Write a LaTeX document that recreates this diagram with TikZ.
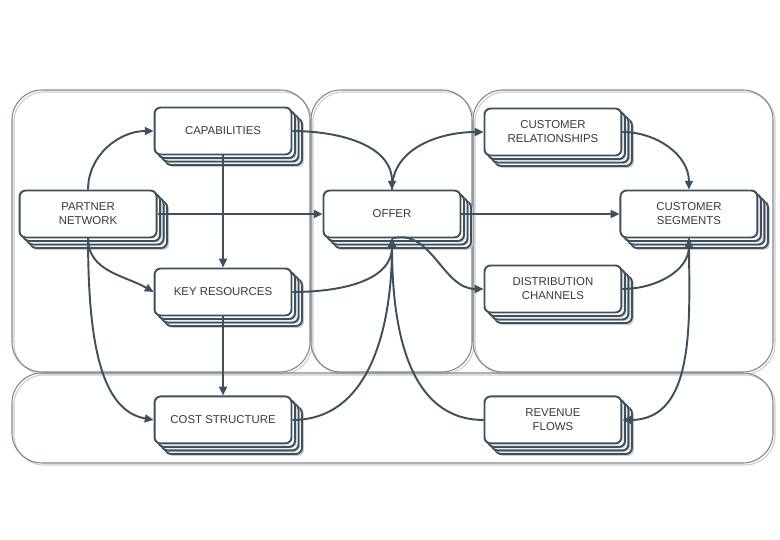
\documentclass[tikz,border=0pt]{standalone}
\usepackage{fontspec}
\usepackage{xcolor}
\usepackage{tikz}
\usetikzlibrary{arrows.meta,shadows}

\newfontfamily\cardfont{Liberation Sans}

\definecolor{cardline}{HTML}{3D505C}
\definecolor{cardtext}{HTML}{3A3A3A}
\definecolor{panelline}{HTML}{7E878C}
\definecolor{shade}{HTML}{C9CDD0}

\tikzset{
  layer/.style={general shadow={shadow xshift=#1, shadow yshift=-#1, fill=white, draw=cardline, line width=1.1pt}},
  haze/.style={general shadow={shadow xshift=#1, shadow yshift=-#1, fill=shade, draw=none}},
  card/.style={draw=cardline, line width=1.1pt, fill=white, rounded corners=3.5pt,
    minimum width=2.74cm, minimum height=0.94cm, align=center, text=cardtext,
    font=\cardfont\fontsize{6.5}{8}\selectfont,
    haze=0.25cm, layer=0.21cm, haze=0.17cm, layer=0.14cm, haze=0.10cm, layer=0.07cm},
  panel/.style={draw=panelline, line width=0.6pt, rounded corners=0.6cm,
    general shadow={shadow xshift=0.04cm, shadow yshift=-0.04cm, draw=shade, line width=0.6pt}},
  flow/.style={draw=cardline, line width=1.1pt, -{Triangle[length=5pt,width=4.5pt]}}
}

\begin{document}
\begin{tikzpicture}[x=0.02cm, y=0.02cm, auto]
    \useasboundingbox (0,0) rectangle (780,-540);

    % Panels
    \draw[panel] (12,-90) rectangle (310,-372);
    \draw[panel] (311,-90) rectangle (472,-372);
    \draw[panel] (473,-90) rectangle (773,-372);
    \draw[panel] (12,-373) rectangle (773,-463);

    % Nodes
    \node[card] (offer) at (392,-214) {OFFER};
    \node[card, left of=offer, node distance=6.08cm] (partner) {PARTNER\\NETWORK};
    \node[card, left of=offer, node distance=3.38cm, yshift=1.66cm] (capab) {CAPABILITIES};
    \node[card, below of=capab, node distance=3.22cm] (keyres) {KEY RESOURCES};
    \node[card, below of=keyres, node distance=2.56cm] (cost) {COST STRUCTURE};
    \node[card, right of=offer, node distance=3.22cm, yshift=1.64cm] (custrel) {CUSTOMER\\RELATIONSHIPS};
    \node[card, right of=offer, node distance=5.94cm] (segments) {CUSTOMER\\SEGMENTS};
    \node[card, below of=custrel, node distance=3.14cm] (distrib) {DISTRIBUTION\\CHANNELS};
    \node[card, below of=distrib, node distance=2.62cm] (revenue) {REVENUE\\FLOWS};

    % Arrows
    \draw[flow] (partner.north) to[out=90, in=180] (capab.west);
    \draw[flow] (partner.east) -- (offer.west);
    \draw[flow] (partner.south) to[out=-90, in=150] (keyres.west);
    \draw[flow] (partner.south) to[out=-90, in=170, out looseness=1.4, in looseness=0.7] (cost.west);
    \draw[flow] (capab) -- (keyres);
    \draw[flow] (keyres) -- (cost);
    \draw[flow] (offer.north) to[out=90, in=180] (custrel.west);
    \draw[flow] (capab.east) to[out=0, in=90] (offer.north);
    \draw[flow] (offer.east) -- (segments.west);
    \draw[flow] (custrel.east) to[out=0, in=90] (segments.north);
    \draw[flow] (offer.south) to[out=15, in=180] (distrib.west);
    \draw[flow] (segments.south) to[out=-90, in=0] (revenue.east);
    \draw[flow] (distrib.east) to[out=0, in=-90] (segments.south);
    \draw[flow] (keyres.east) to[out=0, in=-90] (offer.south);
    \draw[flow] (cost.east) to[out=0, in=-90] (offer.south);
    \draw[flow] (revenue.west) to[out=180, in=-90] (offer.south);
\end{tikzpicture}
\end{document}
